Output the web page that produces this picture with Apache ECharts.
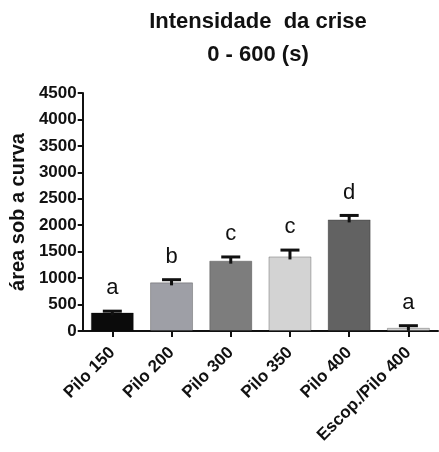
<!DOCTYPE html>
<html>
<head>
<meta charset="utf-8">
<script src="https://cdn.jsdelivr.net/npm/echarts@6/dist/echarts.min.js"></script>
<style>
  html, body { margin: 0; padding: 0; background: #fff; }
  #chart { width: 439px; height: 452px; }
</style>
</head>
<body>
<div id="chart"></div>
<script>
// Seizure intensity (area under the curve), 0-600 s window
const categories = ['Pilo 150', 'Pilo 200', 'Pilo 300', 'Pilo 350', 'Pilo 400', 'Escop./Pilo 400'];
const means = [350, 920, 1330, 1410, 2110, 60];
const sem = [25, 50, 70, 120, 75, 40];
const letters = ['a', 'b', 'c', 'c', 'd', 'a'];
const barColors = ['#0b0b0b', '#9e9fa6', '#7d7d7d', '#d3d3d3', '#626262', '#d0d0d0'];
const yTicks = { min: 0, max: 4500, interval: 500 };

const font = 'Arial, "Liberation Sans", Helvetica, sans-serif';
const chart = echarts.init(document.getElementById('chart'));

const errData = means.map((m, i) => [i, m, sem[i], letters[i]]);

chart.setOption({
  animation: false,
  title: {
    text: 'Intensidade  da crise\n0 - 600 (s)',
    left: 253,
    top: 0,
    textAlign: 'center',
    textStyle: { fontFamily: font, fontWeight: 'bold', fontSize: 22, color: '#111', lineHeight: 33 }
  },
  grid: { left: 82, width: 356, top: 93, bottom: 121 },
  xAxis: {
    type: 'category',
    data: categories,
    axisLine: { lineStyle: { color: '#111', width: 2 } },
    axisTick: { show: true, alignWithLabel: true, length: 6, lineStyle: { color: '#111', width: 2 } },
    axisLabel: {
      rotate: 45, margin: 19, interval: 0,
      fontFamily: font, fontWeight: 'bold', fontSize: 17, color: '#111'
    }
  },
  yAxis: {
    type: 'value',
    min: yTicks.min, max: yTicks.max, interval: yTicks.interval,
    name: 'área sob a curva',
    nameLocation: 'middle',
    nameGap: 44,
    nameTextStyle: { fontFamily: font, fontWeight: 'bold', fontSize: 20, color: '#111' },
    axisLine: { show: true, lineStyle: { color: '#111', width: 2 } },
    axisTick: { show: true, length: 5, lineStyle: { color: '#111', width: 2 } },
    splitLine: { show: false },
    axisLabel: {
      margin: 6, fontFamily: font, fontWeight: 'bold', fontSize: 17, color: '#111',
      formatter: v => String(v)
    }
  },
  series: [
    {
      type: 'bar',
      barWidth: 43,
      data: means.map((v, i) => ({
        value: v,
        itemStyle: { color: barColors[i], borderColor: 'rgba(0,0,0,0.25)', borderWidth: 1 }
      }))
    },
    {
      type: 'custom',
      data: errData,
      z: 10,
      renderItem: function (params, api) {
        const x = api.value(0);
        const top = api.coord([x, api.value(1) + api.value(2)]);
        const base = api.coord([x, api.value(1)]);
        const half = 9.5;
        return {
          type: 'group',
          children: [
            {
              type: 'line',
              shape: { x1: top[0], y1: top[1], x2: base[0], y2: base[1] + 3 },
              style: { stroke: '#111', lineWidth: 3 }
            },
            {
              type: 'line',
              shape: { x1: top[0] - half, y1: top[1], x2: top[0] + half, y2: top[1] },
              style: { stroke: '#111', lineWidth: 3 }
            },
            {
              type: 'text',
              style: {
                x: top[0], y: top[1] - 12,
                text: api.value(3),
                textAlign: 'center', textVerticalAlign: 'bottom',
                font: '22px ' + font,
                fill: '#111'
              }
            }
          ]
        };
      }
    }
  ]
});
</script>
</body>
</html>
